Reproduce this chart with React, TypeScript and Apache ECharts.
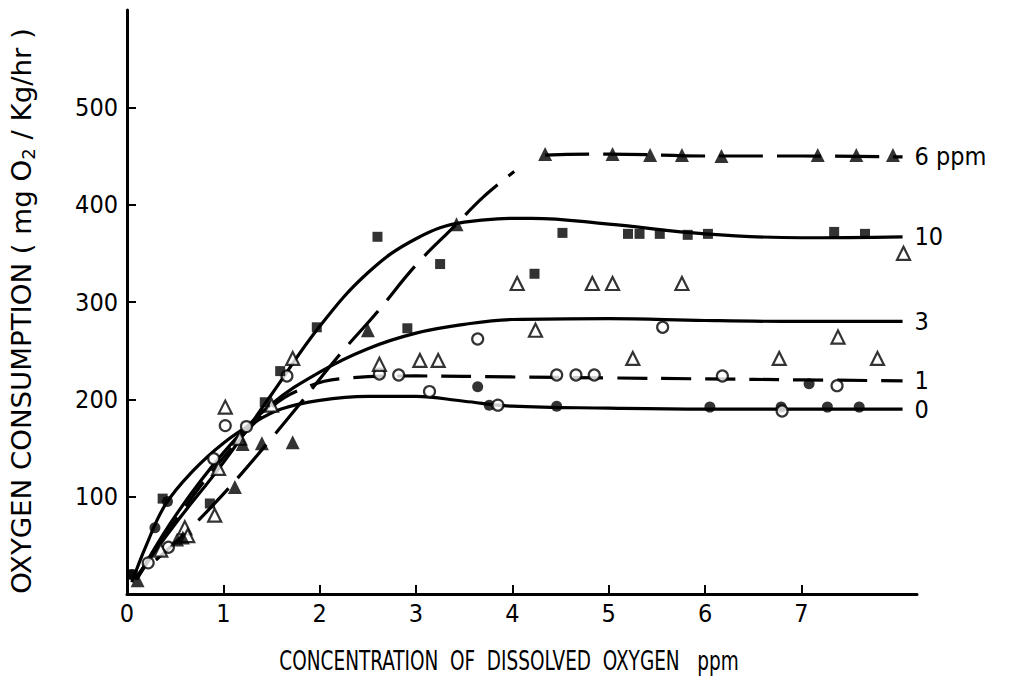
import React, { useEffect, useRef } from "react";
import * as echarts from "echarts";

// ---- axis ticks ----
const xTicks = [0, 1, 2, 3, 4, 5, 6, 7];
const yTicks = [100, 200, 300, 400, 500];

// ---- fitted curves ----
const curve0X = [0.05, 0.2, 0.4, 0.7, 1.0, 1.3, 1.6, 2.0, 2.5, 3.0, 3.5, 4.0, 5.0, 6.0, 7.0, 8.05];
const curve0Y = [12, 50, 92, 128, 155, 175, 190, 199, 203, 203, 198, 193, 191, 190, 190, 190];

const curve1X = [0.1, 0.5, 1.0, 1.5, 1.8, 2.2, 3.0, 4.0, 5.0, 6.0, 7.0, 8.05];
const curve1Y = [15, 75, 140, 192, 210, 221, 224, 223, 222, 221, 220, 219];

const curve3X = [0.1, 0.5, 1.0, 1.5, 2.0, 2.5, 3.0, 3.5, 4.0, 5.0, 6.0, 7.0, 8.05];
const curve3Y = [15, 80, 145, 195, 228, 252, 268, 277, 282, 283, 281, 280, 280];

const curve10X = [0.08, 0.5, 1.0, 1.5, 2.0, 2.5, 3.0, 3.5, 4.2, 5.0, 6.0, 7.0, 8.05];
const curve10Y = [15, 72, 135, 205, 275, 330, 365, 382, 386, 380, 370, 366, 367];

// 6 ppm: rising part and plateau
const curve6aX = [0.3, 0.6, 0.9, 1.2, 1.5, 1.8, 2.2, 2.6, 3.0, 3.4, 3.7, 4.02];
const curve6aY = [35, 62, 92, 125, 160, 196, 245, 290, 338, 378, 408, 434];
const curve6bX = [4.34, 5.0, 6.0, 7.0, 8.05];
const curve6bY = [451, 452, 450, 450, 449];

// ---- measured points ----
const pts0: number[][] = [
  [0.05, 20], [0.29, 68], [0.42, 95], [3.64, 213], [3.76, 194], [4.46, 193],
  [6.05, 192], [6.79, 192], [7.08, 216], [7.27, 192], [7.6, 192],
];
const pts1: number[][] = [
  [0.22, 32], [0.43, 48], [0.9, 139], [1.02, 173], [1.24, 172], [1.66, 224],
  [2.62, 226], [2.82, 225], [3.14, 208], [3.64, 262], [3.85, 194], [4.46, 225],
  [4.66, 225], [4.85, 225], [5.56, 274], [6.18, 224], [6.8, 188], [7.37, 214],
];
const pts3: number[][] = [
  [0.35, 45], [0.6, 68], [0.63, 60], [0.91, 81], [0.95, 129], [1.02, 192],
  [1.17, 160], [1.5, 194], [1.72, 242], [2.62, 236], [3.04, 240], [3.23, 240],
  [4.05, 319], [4.24, 271], [4.83, 319], [5.04, 319], [5.25, 242], [5.76, 319],
  [6.77, 242], [7.38, 264], [7.79, 242], [8.06, 350],
];
const pts10: number[][] = [
  [0.06, 20], [0.37, 98], [0.86, 93], [1.43, 197], [1.59, 229], [1.97, 274],
  [2.6, 367], [2.91, 273], [3.25, 339], [4.23, 329], [4.52, 371], [5.2, 370],
  [5.32, 370], [5.53, 370], [5.82, 369], [6.03, 370], [7.34, 372], [7.66, 370],
];
const pts6: number[][] = [
  [0.11, 14], [0.52, 56], [0.58, 58], [1.12, 110], [1.2, 154], [1.4, 155],
  [1.72, 156], [2.5, 271], [3.42, 380], [4.34, 452], [5.04, 452], [5.43, 451],
  [5.76, 451], [6.17, 450], [7.17, 451], [7.57, 451], [7.95, 451],
];

const curveLabels = ["0", "1", "3", "10", "6 ppm"];

const FONT = "'DejaVu Sans Condensed', 'Liberation Sans Narrow', 'Roboto Condensed', 'DejaVu Sans', sans-serif";

const zip = (xs: number[], ys: number[]) => xs.map((x, i) => [x, ys[i]]);

export default function App() {
  const ref = useRef<HTMLDivElement>(null);
  useEffect(() => {
    document.body.style.margin = "0";
    const chart = echarts.init(ref.current!, null, { renderer: "svg" });
    const line = (name: string, xs: number[], ys: number[], dash: any, label: string | null) => ({
      name,
      type: "line",
      data: zip(xs, ys),
      smooth: 0.4,
      showSymbol: false,
      z: 2,
      lineStyle: { color: "#000", width: 3.2, type: dash },
      endLabel: {
        show: label !== null,
        formatter: label ?? "",
        color: "#000",
        fontSize: 25,
        fontFamily: FONT,
        distance: 12,
      },
    });
    const scat = (name: string, data: number[][], symbol: string, size: number, filled: boolean) => ({
      name,
      type: "scatter",
      data,
      symbol,
      symbolSize: size,
      z: 5,
      itemStyle: filled
        ? { color: "#000" }
        : { color: "#fff", borderColor: "#000", borderWidth: 2.2 },
    });
    chart.setOption({
      animation: false,
      backgroundColor: "#fff",
      grid: { left: 127, right: 92, top: 10, bottom: 94 },
      xAxis: {
        type: "value",
        min: 0,
        max: 8.2,
        axisLine: { lineStyle: { color: "#000", width: 3 } },
        axisTick: { inside: true, length: 9, lineStyle: { color: "#000", width: 2 }, customValues: xTicks },
        axisLabel: { customValues: xTicks, color: "#000", fontSize: 25, fontFamily: FONT, margin: 7 },
        splitLine: { show: false },
      },
      yAxis: {
        type: "value",
        min: 0,
        max: 600,
        axisLine: { show: true, lineStyle: { color: "#000", width: 3 } },
        axisTick: { show: true, inside: true, length: 9, lineStyle: { color: "#000", width: 2 }, customValues: yTicks },
        axisLabel: { customValues: yTicks, color: "#000", fontSize: 25, fontFamily: FONT, margin: 9 },
        splitLine: { show: false },
      },
      graphic: [
        {
          type: "text",
          x: 22,
          y: 311,
          rotation: Math.PI / 2,
          scaleX: 1.18,
          style: {
            text: "{a|OXYGEN CONSUMPTION ( mg O}{s|2}{a| / Kg/hr )}",
            fill: "#000",
            align: "center",
            verticalAlign: "middle",
            rich: {
              a: { fontSize: 26, fontFamily: FONT, fill: "#000" },
              s: { fontSize: 17, fontFamily: FONT, fill: "#000", padding: [14, 0, 0, 0] },
            },
          },
        },
        {
          type: "text",
          x: 509,
          y: 661,
          scaleX: 0.79,
          style: {
            text: "CONCENTRATION  OF  DISSOLVED  OXYGEN   ppm",
            fill: "#000",
            fontSize: 26,
            fontFamily: FONT,
            align: "center",
            verticalAlign: "middle",
          },
        },
      ],
      series: [
        line("c0", curve0X, curve0Y, "solid", curveLabels[0]),
        line("c1", curve1X, curve1Y, [30, 14], curveLabels[1]),
        line("c3", curve3X, curve3Y, "solid", curveLabels[2]),
        line("c10", curve10X, curve10Y, "solid", curveLabels[3]),
        line("c6a", curve6aX, curve6aY, [44, 14], null),
        line("c6b", curve6bX, curve6bY, [44, 14], curveLabels[4]),
        scat("p0", pts0, "circle", 11, true),
        scat("p1", pts1, "circle", 11, false),
        scat("p3", pts3, "triangle", 13, false),
        scat("p10", pts10, "rect", 10, true),
        scat("p6", pts6, "triangle", 14, true),
      ],
    });
    return () => chart.dispose();
  }, []);
  return <div ref={ref} style={{ width: 1009, height: 688 }} />;
}
